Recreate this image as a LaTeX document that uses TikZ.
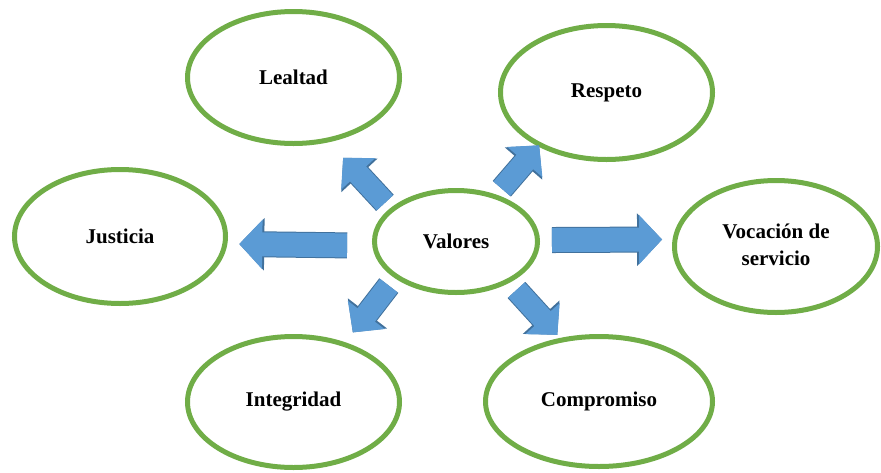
\documentclass[tikz,border=0pt]{standalone}
\usepackage{fontspec}
\setmainfont{Liberation Serif}
\usetikzlibrary{shapes.geometric,arrows.meta}
\definecolor{verde}{HTML}{70AD47}
\definecolor{azul}{HTML}{5B9BD5}
\definecolor{borde}{HTML}{41719C}
\tikzset{
  valor/.style={ellipse, draw=verde, line width=5pt, inner sep=0pt, outer sep=0pt,
    font=\bfseries\fontsize{21}{27}\selectfont},
  flechadiag/.style={draw=azul, line width=22pt, -{Triangle[width=45pt,length=22pt]},
    preaction={draw=borde, line width=24pt, -{Triangle[width=48pt,length=24pt]}}},
  flechahor/.style={draw=azul, line width=24pt, -{Triangle[width=48pt,length=23pt]},
    preaction={draw=borde, line width=26pt, -{Triangle[width=51pt,length=25pt]}}}
}
\begin{document}
\begin{tikzpicture}[x=1pt,y=-1pt]
  \useasboundingbox (0,0) rectangle (881,472);
  % centre
  \node[valor, minimum width=163pt, minimum height=102pt] (val) at (456,241.5) {Valores};
  % valores
  \node[valor, minimum width=212pt, minimum height=132pt] (lea) at (293.5,77.5) {Lealtad};
  \node[valor, minimum width=212pt, minimum height=134pt] (res) at (606.5,92.5) {Respeto};
  \node[valor, minimum width=211pt, minimum height=134pt] (jus) at (120,236.5) {Justicia};
  \node[valor, minimum width=203pt, minimum height=132pt] (voc) at (776,246.5)
    {\raisebox{7pt}{\begin{tabular}{@{}c@{}}Vocación de\\servicio\end{tabular}}};
  \node[valor, minimum width=212pt, minimum height=131pt] (int) at (293.5,402) {Integridad};
  \node[valor, minimum width=227pt, minimum height=130pt] (com) at (599,401.5) {Compromiso};
  % flechas
  \draw[flechadiag, shorten <=10pt, shorten >=24pt] (val.154.9) -- (lea.-62);
  \draw[flechadiag, shorten <=10.5pt, shorten >=1pt] (val.49.8) -- (res.-142.2);
  \draw[flechadiag, shorten <=12pt, shorten >=15pt] (val.-150.1) -- (int.49.7);
  \draw[flechadiag, shorten <=12.5pt, shorten >=7pt] (val.-37) -- (com.121.3);
  \draw[flechahor, shorten <=27.7pt, shorten >=14.4pt] (val.-177.5) -- (jus.-4.6);
  \draw[flechahor, shorten <=14.5pt, shorten >=13pt] (val.1.05) -- (voc.176.3);
\end{tikzpicture}
\end{document}
